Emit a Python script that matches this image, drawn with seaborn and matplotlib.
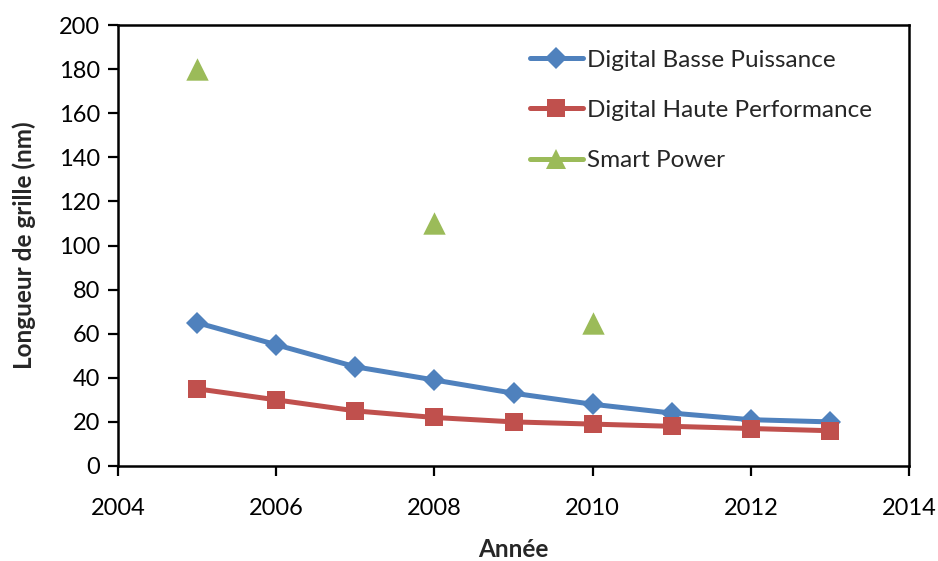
import matplotlib
matplotlib.use("Agg")
import matplotlib.pyplot as plt
from matplotlib.lines import Line2D
import seaborn as sns
import pandas as pd

years = [2005, 2006, 2007, 2008, 2009, 2010, 2011, 2012, 2013]
basse_puissance = [65, 55, 45, 39, 33, 28, 24, 21, 20]
haute_performance = [35, 30, 25, 22, 20, 19, 18, 17, 16]
smart_years = [2005, 2008, 2010]
smart_power = [180, 110, 65]

names = ["Digital Basse Puissance", "Digital Haute Performance", "Smart Power"]
colors = ["#4F81BD", "#C0504D", "#9BBB59"]
yticks = [0, 20, 40, 60, 80, 100, 120, 140, 160, 180, 200]
xticks = [2004, 2006, 2008, 2010, 2012, 2014]

sns.set_theme(style="white")
plt.rcParams['font.family'] = ['Lato', 'DejaVu Sans']

fig = plt.figure(figsize=(9.38, 5.61), dpi=100)
ax = fig.add_axes([118/938, 1-466/561, (909-118)/938, (466-25)/561])

df1 = pd.DataFrame({"x": years, "y": basse_puissance})
df2 = pd.DataFrame({"x": years, "y": haute_performance})
df3 = pd.DataFrame({"x": smart_years, "y": smart_power})

sns.lineplot(data=df1, x="x", y="y", ax=ax, color=colors[0], lw=3.6,
             marker="D", markersize=11, markeredgewidth=0, zorder=3)
sns.lineplot(data=df2, x="x", y="y", ax=ax, color=colors[1], lw=3.6,
             marker="s", markersize=12.5, markeredgewidth=0, zorder=3)
sns.scatterplot(data=df3, x="x", y="y", ax=ax, color=colors[2], marker="^",
                s=260, linewidth=0, zorder=3)

ax.set_xlim(2004, 2014)
ax.set_ylim(0, 200)
ax.set_xticks(xticks)
ax.set_yticks(yticks)
ax.set_xticklabels([str(t) for t in xticks])
ax.set_yticklabels([str(t) for t in yticks])
ax.tick_params(axis="both", which="both", direction="out", length=7, width=1.6,
               color="black", labelsize=17, labelcolor="black", pad=6)
ax.tick_params(axis="x", pad=16)
ax.tick_params(axis="y", left=True)
ax.tick_params(axis="x", bottom=True)
for s in ax.spines.values():
    s.set_visible(True)
    s.set_color("black")
    s.set_linewidth(1.8)

ax.set_xlabel("Année", fontsize=17.5, fontweight="bold", labelpad=14)
ax.set_ylabel("Longueur de grille (nm)", fontsize=17.5, fontweight="bold", labelpad=16)

handles = [
    Line2D([], [], color=colors[0], lw=3.6, marker="D", markersize=11, markeredgewidth=0),
    Line2D([], [], color=colors[1], lw=3.6, marker="s", markersize=12.5, markeredgewidth=0),
    Line2D([], [], color=colors[2], lw=3.6, marker="^", markersize=14, markeredgewidth=0),
]
leg = ax.legend(handles, names, loc="upper left", bbox_to_anchor=(0.508, 0.966),
                frameon=False, fontsize=17.5, handlelength=2.2, handletextpad=0.15,
                labelspacing=1.2, borderaxespad=0)

fig.savefig("out.png", dpi=100)
